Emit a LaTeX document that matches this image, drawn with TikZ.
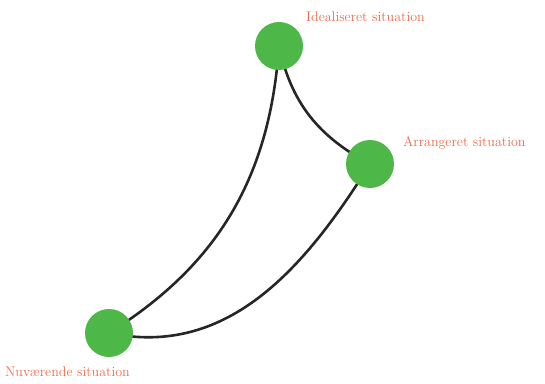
\documentclass[tikz,border=0pt]{standalone}
\usetikzlibrary{positioning}
\definecolor{statefill}{HTML}{4DB848}
\definecolor{labelcolor}{HTML}{EE6B4B}
\definecolor{linkcolor}{HTML}{262626}

\begin{document}
\begin{tikzpicture}[
  x=1pt, y=1pt,
  state/.style={circle, fill=statefill, minimum size=48pt, inner sep=0pt},
  statelabel/.style={font=\fontsize{14}{16}\selectfont, text=labelcolor, anchor=west, inner sep=0pt},
  link/.style={draw=linkcolor, line width=2.6pt}
]
  \useasboundingbox (0,0) rectangle (545,383);

  \node[statelabel] (ideallabel) at (306,366) {Idealiseret situation};
  \node[statelabel] (arrlabel) at (403,240) {Arrangeret situation};
  \node[statelabel] (nuvlabel) at (5,11) {Nuværende situation};

  \draw[link] (109,50) to[out=32,in=-94] (279,337);
  \draw[link] (109,50) to[out=-12,in=-122] (370,219);
  \draw[link] (279,337) to[out=-78,in=152] (370,219);

  \node[state] (ideal) at (279,337) {};
  \node[state] (arr) at (370,219) {};
  \node[state] (nuv) at (109,50) {};
\end{tikzpicture}
\end{document}
